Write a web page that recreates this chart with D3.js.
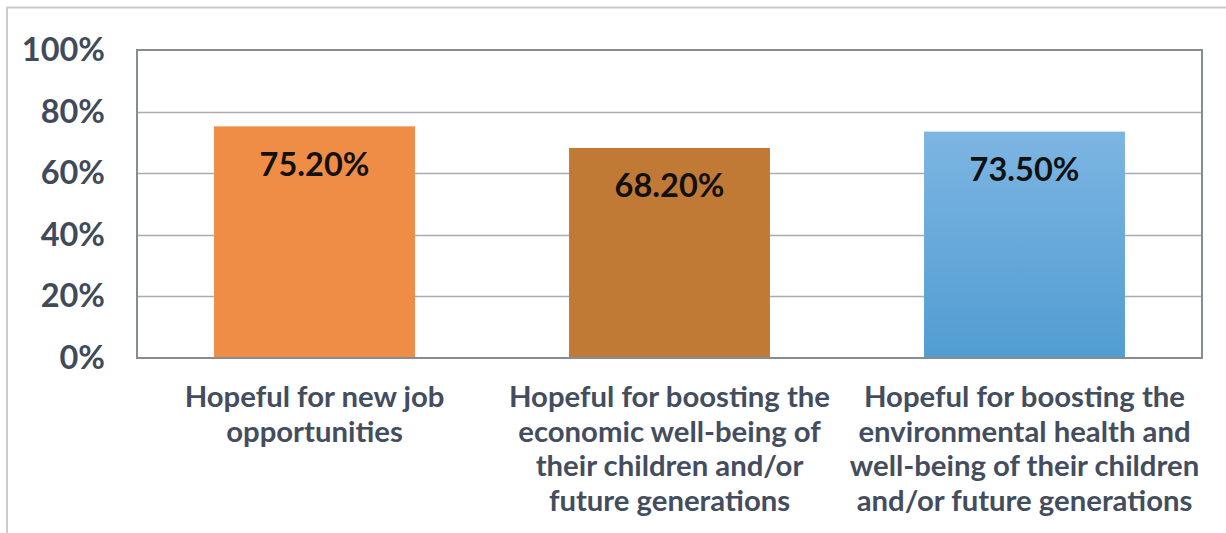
<!DOCTYPE html>
<html>
<head>
<meta charset="utf-8">
<script src="https://cdn.jsdelivr.net/npm/d3@7"></script>
<style>
  html, body { margin: 0; padding: 0; background: #ffffff; }
  svg { display: block; }
</style>
</head>
<body>
<svg id="chart" width="1226" height="533"></svg>
<script>
// Survey results: share of respondents who are hopeful about each outcome
const categories = [
  ["Hopeful for new job", "opportunities"],
  ["Hopeful for boosting the", "economic well-being of", "their children and/or", "future generations"],
  ["Hopeful for boosting the", "environmental health and", "well-being of their children", "and/or future generations"]
];
const values = [75.2, 68.2, 73.5];
const valueLabels = ["75.20%", "68.20%", "73.50%"];
const yTicks = [0, 20, 40, 60, 80, 100];
const barColors = ["#ef8d46", "#c17a35", "url(#blueGrad)"];

const W = 1226, H = 533;
const plot = { left: 137, right: 1202, top: 50, bottom: 358 };
const svg = d3.select("#chart");
const FONT = "Lato, 'Open Sans', sans-serif";

// Gradient for the third bar
const defs = svg.append("defs");
const grad = defs.append("linearGradient").attr("id", "blueGrad")
  .attr("x1", 0).attr("y1", 0).attr("x2", 0).attr("y2", 1);
grad.append("stop").attr("offset", "0%").attr("stop-color", "#7db5e2");
grad.append("stop").attr("offset", "100%").attr("stop-color", "#519dd2");

// Outer frame (top and left edges)
svg.append("path")
  .attr("d", `M7,${H} L7,7.5 L${W},7.5`)
  .attr("fill", "none").attr("stroke", "#cbcbcb").attr("stroke-width", 2);

const y = d3.scaleLinear().domain([0, 100]).range([plot.bottom, plot.top]);
const x = d3.scaleBand().domain(d3.range(values.length))
  .range([plot.left, plot.right]).paddingInner(0.434).paddingOuter(0.217);

// Gridlines
svg.append("g")
  .selectAll("line").data(yTicks.filter(t => t > 0 && t < 100)).join("line")
  .attr("x1", plot.left).attr("x2", plot.right)
  .attr("y1", d => Math.round(y(d)) + 0.5).attr("y2", d => Math.round(y(d)) + 0.5)
  .attr("stroke", "#a9abae").attr("stroke-width", 1.3);

// Bars
svg.append("g").selectAll("rect").data(values).join("rect")
  .attr("x", (d, i) => x(i))
  .attr("width", x.bandwidth())
  .attr("y", d => y(d))
  .attr("height", d => y(0) - y(d))
  .attr("fill", (d, i) => barColors[i]);

// Plot border
svg.append("rect")
  .attr("x", plot.left).attr("y", plot.top)
  .attr("width", plot.right - plot.left).attr("height", plot.bottom - plot.top)
  .attr("fill", "none").attr("stroke", "#878c93").attr("stroke-width", 2);

// Y axis labels
const yAxis = d3.axisLeft(y).tickValues(yTicks).tickFormat(d => d + "%").tickSize(0).tickPadding(32);
const ya = svg.append("g").attr("transform", `translate(${plot.left},0)`).call(yAxis);
ya.select(".domain").remove();
ya.selectAll("text")
  .attr("font-family", FONT).attr("font-weight", 700).attr("font-size", 32.5)
  .attr("fill", "#3f4a5a");

// Value labels
svg.append("g").selectAll("text").data(values).join("text")
  .attr("x", (d, i) => x(i) + x.bandwidth() / 2)
  .attr("y", d => y(d) + 38)
  .attr("dy", "0.35em")
  .attr("text-anchor", "middle")
  .attr("font-family", FONT).attr("font-weight", 700).attr("font-size", 32.5)
  .attr("fill", "#111111")
  .text((d, i) => valueLabels[i]);

// Category labels
const cat = svg.append("g").selectAll("text").data(categories).join("text")
  .attr("text-anchor", "middle")
  .attr("font-family", FONT).attr("font-weight", 700).attr("font-size", 29.3)
  .attr("fill", "#434d5e");
cat.selectAll("tspan").data((d, i) => d.map(line => ({ line, i }))).join("tspan")
  .attr("x", d => x(d.i) + x.bandwidth() / 2)
  .attr("y", (d, j) => 397 + j * 34.5)
  .attr("dy", "0.35em")
  .text(d => d.line);
</script>
</body>
</html>
